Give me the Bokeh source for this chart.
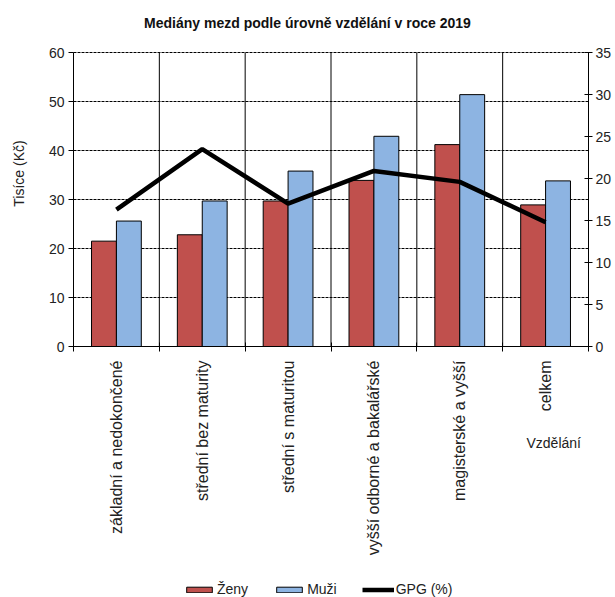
import math
from bokeh.plotting import figure
from bokeh.models import (ColumnDataSource, Range1d, LinearAxis, FixedTicker,
                          Legend, LegendItem, Label)
from bokeh.transform import dodge
from bokeh.embed import file_html
from bokeh.resources import INLINE

# Median wages by education level, 2019
categories = ["základní a nedokončené", "střední bez maturity", "střední s maturitou",
              "vyšší odborné a bakalářské", "magisterské a vyšší", "celkem"]
zeny = [21.5, 22.8, 29.7, 33.9, 41.2, 28.9]   # thousands CZK
muzi = [25.6, 29.7, 35.8, 42.9, 51.4, 33.8]   # thousands CZK
gpg = [16.3, 23.5, 17.0, 20.9, 19.6, 14.8]    # gender pay gap, %

left_ticks = [0, 10, 20, 30, 40, 50, 60]
right_ticks = [0, 5, 10, 15, 20, 25, 30, 35]

FONT = "Liberation Sans"
TXT = "#222222"

# page geometry (pixels): canvas and the plotting box inside it
W, H = 615, 597
BOX_L, BOX_R, BOX_T, BOX_B = 73, 588, 52, 346

n = len(categories)
y_max, g_max = left_ticks[-1], right_ticks[-1]
px_x = (BOX_R - BOX_L) / n
px_y = (BOX_B - BOX_T) / y_max
px_g = (BOX_B - BOX_T) / g_max

# the frame spans the whole canvas; axes sit at fixed data locations
x_range = Range1d(-BOX_L / px_x, n + (W - BOX_R) / px_x)
y_range = Range1d(-(H - BOX_B) / px_y, y_max + BOX_T / px_y)
g_range = Range1d(-(H - BOX_B) / px_g, g_max + BOX_T / px_g)

xs = [i + 0.5 for i in range(n)]
src = ColumnDataSource(dict(x=xs, zeny=zeny, muzi=muzi, gpg=gpg))

p = figure(frame_width=W, frame_height=H, output_backend="svg", toolbar_location=None,
           x_range=x_range, y_range=y_range, min_border=0,
           x_axis_type=None, y_axis_type=None)
p.extra_y_ranges = {"gpg": g_range}
p.outline_line_color = None
p.background_fill_color = "white"
p.border_fill_color = "white"
p.title.visible = False
p.xgrid.visible = False
p.ygrid.visible = False

# grid lines inside the plotting box
p.segment(x0=[0] * len(left_ticks), x1=[n] * len(left_ticks), y0=left_ticks, y1=left_ticks,
          line_color="black", line_width=1, line_dash="3 1")
bounds_x = list(range(1, n))
p.segment(x0=bounds_x, x1=bounds_x, y0=[0] * len(bounds_x), y1=[y_max] * len(bounds_x),
          line_color="black", line_width=1)

# bars and the pay-gap line
r_z = p.vbar(x=dodge("x", -0.145, range=p.x_range), top="zeny", width=0.29, source=src,
             fill_color="#C0504D", line_color="black", line_width=1)
r_m = p.vbar(x=dodge("x", 0.145, range=p.x_range), top="muzi", width=0.29, source=src,
             fill_color="#8DB4E2", line_color="black", line_width=1)
r_g = p.line(x="x", y="gpg", source=src, y_range_name="gpg",
             line_color="black", line_width=4.5)

# left axis (wages)
ya = LinearAxis(ticker=FixedTicker(ticks=left_ticks), fixed_location=0, bounds=(0, y_max))
ya.major_label_text_font = FONT
ya.major_label_text_font_size = "14px"
ya.major_label_text_color = TXT
ya.major_label_standoff = 4
ya.major_tick_out = 5
ya.major_tick_in = 0
ya.minor_tick_line_color = None
ya.axis_line_color = "black"
p.add_layout(ya, "left")

# right axis (GPG)
ra = LinearAxis(y_range_name="gpg", ticker=FixedTicker(ticks=right_ticks),
                fixed_location=n, bounds=(0, g_max))
ra.major_label_text_font = FONT
ra.major_label_text_font_size = "14px"
ra.major_label_text_color = TXT
ra.major_label_standoff = 3
ra.major_tick_out = 4
ra.major_tick_in = 4
ra.minor_tick_line_color = None
ra.axis_line_color = "black"
p.add_layout(ra, "right")

# bottom axis: labels at category centres, ticks at category boundaries
xa = LinearAxis(ticker=FixedTicker(ticks=xs, minor_ticks=list(range(n + 1))),
                fixed_location=0, bounds=(0, n))
xa.major_label_overrides = {x: c for x, c in zip(xs, categories)}
xa.major_label_orientation = math.pi / 2
xa.major_label_text_font = FONT
xa.major_label_text_font_size = "16px"
xa.major_label_text_color = TXT
xa.major_label_standoff = 9
xa.major_tick_line_color = None
xa.major_tick_out = 0
xa.major_tick_in = 0
xa.minor_tick_out = 5
xa.minor_tick_in = 4
xa.minor_tick_line_color = "black"
xa.axis_line_color = "black"
p.add_layout(xa, "below")

# free texts (screen offsets from the canvas' bottom-left corner)
p.add_layout(Label(x=307, y=H - 22, x_units="screen", y_units="screen",
                   text="Mediány mezd podle úrovně vzdělání v roce 2019",
                   text_font=FONT, text_font_size="14px", text_font_style="bold",
                   text_color="#111111", text_align="center", text_baseline="middle"))
p.add_layout(Label(x=18, y=H - 173, x_units="screen", y_units="screen",
                   text="Tisíce (Kč)", angle=math.pi / 2,
                   text_font=FONT, text_font_size="14px", text_color=TXT,
                   text_align="center", text_baseline="middle"))
p.add_layout(Label(x=526, y=H - 442, x_units="screen", y_units="screen",
                   text="Vzdělání", text_font=FONT, text_font_size="14px",
                   text_color=TXT, text_align="left", text_baseline="middle"))

# legend
legend = Legend(items=[LegendItem(label="Ženy", renderers=[r_z]),
                       LegendItem(label="Muži", renderers=[r_m]),
                       LegendItem(label="GPG (%)", renderers=[r_g])],
                orientation="horizontal", location=(183, 0),
                label_text_font=FONT, label_text_font_size="14px",
                label_text_color=TXT, glyph_width=32, glyph_height=7,
                label_height=14, label_standoff=2, spacing=25,
                border_line_color=None, background_fill_alpha=0,
                padding=0, margin=0)
p.add_layout(legend, "center")

open("out.html", "w").write(file_html(p, INLINE))
